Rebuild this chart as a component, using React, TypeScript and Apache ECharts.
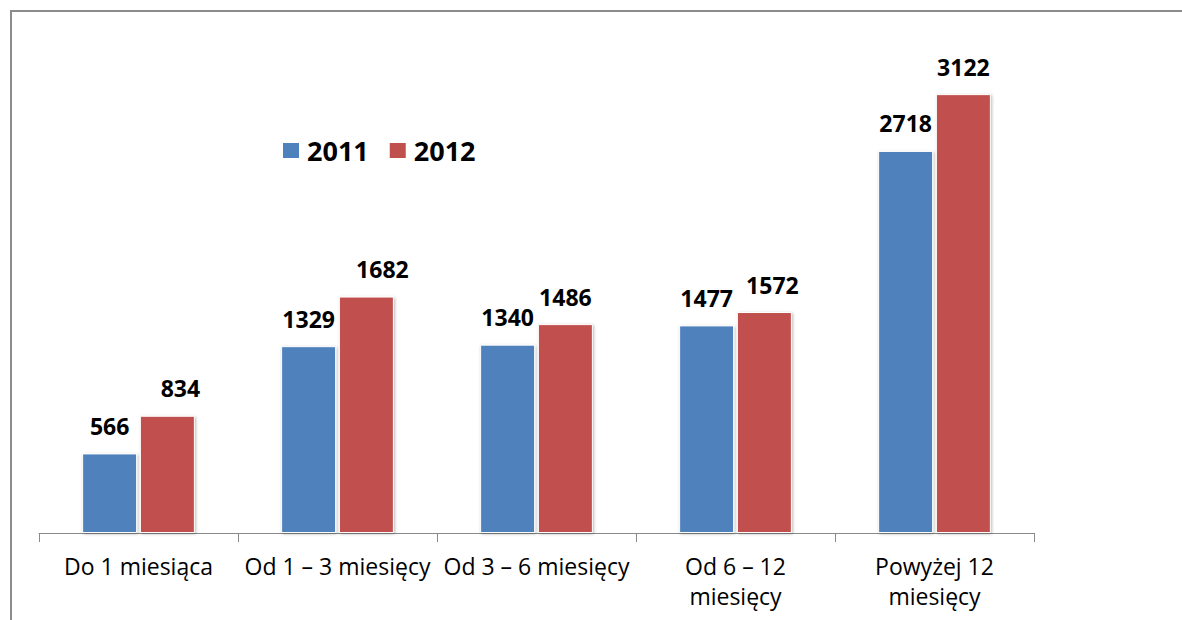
import { useEffect, useRef } from "react";
import * as echarts from "echarts";

const categories = [
  "Do 1 miesiąca",
  "Od 1 – 3 miesięcy",
  "Od 3 – 6 miesięcy",
  "Od 6 – 12\nmiesięcy",
  "Powyżej 12\nmiesięcy",
];
const seriesNames = ["2011", "2012"];
const values2011 = [566, 1329, 1340, 1477, 2718];
const values2012 = [834, 1682, 1486, 1572, 3122];
const labelShift2012 = [13, 16, 0, 8, 0];

const FONT = "'Open Sans', 'Noto Sans', sans-serif";

export default function App() {
  const ref = useRef<HTMLDivElement>(null);
  useEffect(() => {
    if (!ref.current) return;
    const chart = echarts.init(ref.current, undefined, { renderer: "svg" });
    const barStyle = (color: string) => ({
      color,
      borderColor: "#ffffff",
      borderWidth: 1,
      shadowColor: "rgba(0,0,0,0.28)",
      shadowBlur: 3,
      shadowOffsetX: 1,
      shadowOffsetY: 1,
    });
    const label = {
      show: true,
      position: "top" as const,
      distance: 16,
      fontFamily: FONT,
      fontSize: 23,
      fontWeight: "bold" as const,
      color: "#000",
    };
    chart.setOption({
      animation: false,
      backgroundColor: "#ffffff",
      graphic: [
        {
          type: "rect",
          shape: { x: 11, y: 11, width: 1400, height: 800 },
          style: { fill: "none", stroke: "#8c8c8c", lineWidth: 2 },
          silent: true,
        },
      ],
      legend: {
        data: seriesNames,
        left: 281,
        top: 137,
        padding: 0,
        itemWidth: 18,
        itemHeight: 17,
        itemGap: 19,
        icon: "rect",
        textStyle: {
          fontFamily: FONT,
          fontSize: 27,
          fontWeight: "bold",
          color: "#000",
          padding: [0, 0, 0, 2],
        },
      },
      grid: { left: 39, right: 148, top: 41, bottom: 87, containLabel: false },
      xAxis: {
        type: "category",
        data: categories,
        boundaryGap: true,
        axisLine: { lineStyle: { color: "#8a8a8a", width: 1 } },
        axisTick: { show: true, length: 9, lineStyle: { color: "#8a8a8a" }, alignWithLabel: false },
        axisLabel: {
          interval: 0,
          margin: 18,
          fontFamily: FONT,
          fontSize: 23,
          lineHeight: 30,
          color: "#000",
        },
      },
      yAxis: {
        type: "value",
        min: 0,
        max: 3500,
        show: false,
        splitLine: { show: false },
      },
      series: [
        {
          name: seriesNames[0],
          type: "bar",
          data: values2011,
          barWidth: 55,
          barGap: "5%",
          itemStyle: barStyle("#4F81BD"),
          label,
        },
        {
          name: seriesNames[1],
          type: "bar",
          data: values2012.map((v, i) => ({
            value: v,
            label: { offset: [labelShift2012[i], 0] },
          })),
          barWidth: 55,
          barGap: "5%",
          itemStyle: barStyle("#C0504D"),
          label,
        },
      ],
    });
    return () => chart.dispose();
  }, []);
  return (
    <div
      ref={ref}
      style={{ position: "absolute", left: 0, top: 0, width: 1182, height: 620, background: "#fff" }}
    />
  );
}
